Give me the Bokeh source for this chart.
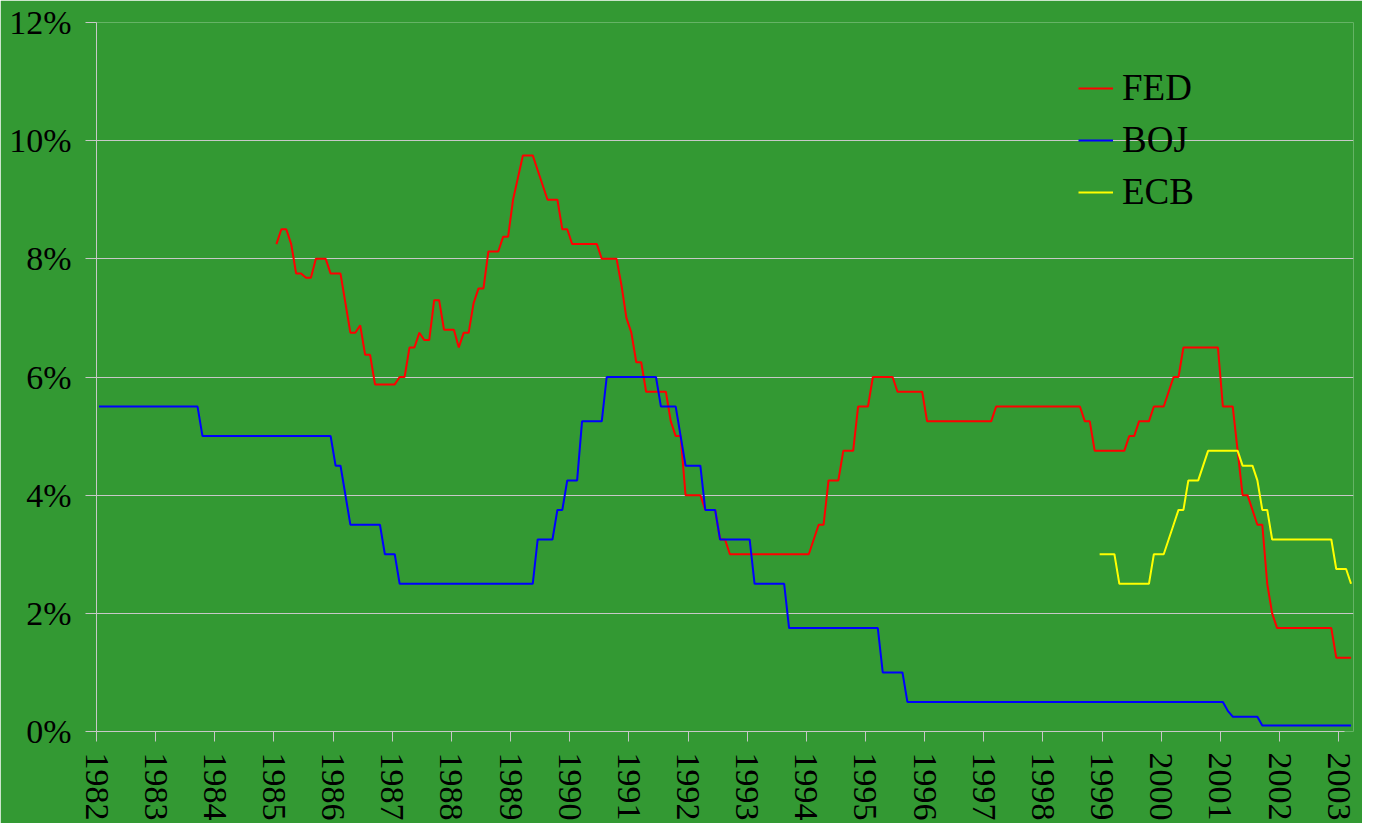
from bokeh.plotting import figure
from bokeh.models import FixedTicker, Legend, LegendItem, ColumnDataSource, Range1d
from bokeh.embed import file_html
from bokeh.resources import INLINE

# ---------------- data (monthly policy rates, %) ----------------
YEARS = list(range(1982, 2004))
YEAR_LABELS = [str(y) for y in YEARS]
Y_TICKS = [0, 2, 4, 6, 8, 10, 12]
Y_LABELS = ["0%", "2%", "4%", "6%", "8%", "10%", "12%"]

SERIES_NAMES = ["FED", "BOJ", "ECB"]
SERIES_COLORS = ["#FF0000", "#0000FF", "#FFFF00"]

FED_START = (1985, 1)
FED = [
    8.25, 8.5, 8.5, 8.25, 7.75, 7.75, 7.68, 7.68, 8.0, 8.0, 8.0, 7.75,          # 1985
    7.75, 7.75, 7.25, 6.75, 6.75, 6.875, 6.375, 6.375, 5.875, 5.875, 5.875, 5.875,  # 1986
    5.875, 6.0, 6.0, 6.5, 6.5, 6.75, 6.625, 6.625, 7.3, 7.3, 6.8, 6.8,          # 1987
    6.8, 6.5, 6.75, 6.75, 7.25, 7.5, 7.5, 8.125, 8.125, 8.125, 8.375, 8.375,    # 1988
    9.0, 9.375, 9.75, 9.75, 9.75, 9.5, 9.25, 9.0, 9.0, 9.0, 8.5, 8.5,           # 1989
    8.25, 8.25, 8.25, 8.25, 8.25, 8.25, 8.0, 8.0, 8.0, 8.0, 7.55, 7.0,          # 1990
    6.75, 6.25, 6.25, 5.75, 5.75, 5.75, 5.75, 5.75, 5.25, 5.0, 5.0, 4.0,        # 1991
    4.0, 4.0, 4.0, 3.75, 3.75, 3.75, 3.25, 3.25, 3.0, 3.0, 3.0, 3.0,            # 1992
    3.0, 3.0, 3.0, 3.0, 3.0, 3.0, 3.0, 3.0, 3.0, 3.0, 3.0, 3.0,                 # 1993
    3.0, 3.25, 3.5, 3.5, 4.25, 4.25, 4.25, 4.75, 4.75, 4.75, 5.5, 5.5,          # 1994
    5.5, 6.0, 6.0, 6.0, 6.0, 6.0, 5.75, 5.75, 5.75, 5.75, 5.75, 5.75,           # 1995
    5.25, 5.25, 5.25, 5.25, 5.25, 5.25, 5.25, 5.25, 5.25, 5.25, 5.25, 5.25,     # 1996
    5.25, 5.25, 5.5, 5.5, 5.5, 5.5, 5.5, 5.5, 5.5, 5.5, 5.5, 5.5,               # 1997
    5.5, 5.5, 5.5, 5.5, 5.5, 5.5, 5.5, 5.5, 5.25, 5.25, 4.75, 4.75,             # 1998
    4.75, 4.75, 4.75, 4.75, 4.75, 5.0, 5.0, 5.25, 5.25, 5.25, 5.5, 5.5,         # 1999
    5.5, 5.75, 6.0, 6.0, 6.5, 6.5, 6.5, 6.5, 6.5, 6.5, 6.5, 6.5,                # 2000
    5.5, 5.5, 5.5, 4.75, 4.0, 4.0, 3.75, 3.5, 3.5, 2.5, 2.0, 1.75,              # 2001
    1.75, 1.75, 1.75, 1.75, 1.75, 1.75, 1.75, 1.75, 1.75, 1.75, 1.75, 1.25,     # 2002
    1.25, 1.25, 1.25,                                                            # 2003
]

BOJ_START = (1982, 1)
BOJ = [
    5.5, 5.5, 5.5, 5.5, 5.5, 5.5, 5.5, 5.5, 5.5, 5.5, 5.5, 5.5,                 # 1982
    5.5, 5.5, 5.5, 5.5, 5.5, 5.5, 5.5, 5.5, 5.5, 5.0, 5.0, 5.0,                 # 1983
    5.0, 5.0, 5.0, 5.0, 5.0, 5.0, 5.0, 5.0, 5.0, 5.0, 5.0, 5.0,                 # 1984
    5.0, 5.0, 5.0, 5.0, 5.0, 5.0, 5.0, 5.0, 5.0, 5.0, 5.0, 5.0,                 # 1985
    4.5, 4.5, 4.0, 3.5, 3.5, 3.5, 3.5, 3.5, 3.5, 3.5, 3.0, 3.0,                 # 1986
    3.0, 2.5, 2.5, 2.5, 2.5, 2.5, 2.5, 2.5, 2.5, 2.5, 2.5, 2.5,                 # 1987
    2.5, 2.5, 2.5, 2.5, 2.5, 2.5, 2.5, 2.5, 2.5, 2.5, 2.5, 2.5,                 # 1988
    2.5, 2.5, 2.5, 2.5, 2.5, 3.25, 3.25, 3.25, 3.25, 3.75, 3.75, 4.25,          # 1989
    4.25, 4.25, 5.25, 5.25, 5.25, 5.25, 5.25, 6.0, 6.0, 6.0, 6.0, 6.0,          # 1990
    6.0, 6.0, 6.0, 6.0, 6.0, 6.0, 5.5, 5.5, 5.5, 5.5, 5.0, 4.5,                 # 1991
    4.5, 4.5, 4.5, 3.75, 3.75, 3.75, 3.25, 3.25, 3.25, 3.25, 3.25, 3.25,        # 1992
    3.25, 2.5, 2.5, 2.5, 2.5, 2.5, 2.5, 2.5, 1.75, 1.75, 1.75, 1.75,            # 1993
    1.75, 1.75, 1.75, 1.75, 1.75, 1.75, 1.75, 1.75, 1.75, 1.75, 1.75, 1.75,     # 1994
    1.75, 1.75, 1.75, 1.0, 1.0, 1.0, 1.0, 1.0, 0.5, 0.5, 0.5, 0.5,              # 1995
    0.5, 0.5, 0.5, 0.5, 0.5, 0.5, 0.5, 0.5, 0.5, 0.5, 0.5, 0.5,                 # 1996
    0.5, 0.5, 0.5, 0.5, 0.5, 0.5, 0.5, 0.5, 0.5, 0.5, 0.5, 0.5,                 # 1997
    0.5, 0.5, 0.5, 0.5, 0.5, 0.5, 0.5, 0.5, 0.5, 0.5, 0.5, 0.5,                 # 1998
    0.5, 0.5, 0.5, 0.5, 0.5, 0.5, 0.5, 0.5, 0.5, 0.5, 0.5, 0.5,                 # 1999
    0.5, 0.5, 0.5, 0.5, 0.5, 0.5, 0.5, 0.5, 0.5, 0.5, 0.5, 0.5,                 # 2000
    0.5, 0.35, 0.25, 0.25, 0.25, 0.25, 0.25, 0.25, 0.1, 0.1, 0.1, 0.1,          # 2001
    0.1, 0.1, 0.1, 0.1, 0.1, 0.1, 0.1, 0.1, 0.1, 0.1, 0.1, 0.1,                 # 2002
    0.1, 0.1, 0.1,                                                               # 2003
]

ECB_START = (1998, 12)
ECB = [
    3.0,                                                                         # 1998-12
    3.0, 3.0, 3.0, 2.5, 2.5, 2.5, 2.5, 2.5, 2.5, 2.5, 3.0, 3.0,                 # 1999
    3.0, 3.25, 3.5, 3.75, 3.75, 4.25, 4.25, 4.25, 4.5, 4.75, 4.75, 4.75,        # 2000
    4.75, 4.75, 4.75, 4.75, 4.5, 4.5, 4.5, 4.25, 3.75, 3.75, 3.25, 3.25,        # 2001
    3.25, 3.25, 3.25, 3.25, 3.25, 3.25, 3.25, 3.25, 3.25, 3.25, 3.25, 2.75,     # 2002
    2.75, 2.75, 2.5,                                                             # 2003
]


def month_positions(start, n):
    """Mid-month positions (in decimal years) of n consecutive monthly observations."""
    year, month = start
    return [year + (month - 1 + i + 0.5) / 12.0 for i in range(n)]


BG = "#339933"
GRID = "#c8c8c8"
FONT = "Liberation Serif"

p = figure(
    width=1362, height=823,
    x_range=Range1d(1982, 2003.25), y_range=Range1d(0, 12),
    output_backend="svg", toolbar_location=None,
    background_fill_color=BG, border_fill_color=BG,
    min_border_left=96, min_border_right=9, min_border_top=22, min_border_bottom=89,
)
p.outline_line_color = None

# axes
p.xaxis.ticker = FixedTicker(ticks=YEARS)
p.xaxis.major_label_overrides = {y: lab for y, lab in zip(YEARS, YEAR_LABELS)}
p.xaxis.major_label_orientation = "vertical"
p.xaxis.bounds = (1982, 2003.1)
p.yaxis.ticker = FixedTicker(ticks=Y_TICKS)
p.yaxis.major_label_overrides = {t: lab for t, lab in zip(Y_TICKS, Y_LABELS)}

for ax in (p.xaxis, p.yaxis):
    ax.axis_line_color = GRID
    ax.axis_line_width = 1
    ax.major_tick_line_color = GRID
    ax.major_tick_in = 0
    ax.minor_tick_line_color = None
    ax.major_label_text_font = FONT
    ax.major_label_text_font_size = "34px"
    ax.major_label_text_color = "black"
p.xaxis.major_tick_out = 10
p.xaxis.major_label_standoff = 11
p.yaxis.major_tick_out = 11
p.yaxis.major_label_standoff = 14

p.xgrid.grid_line_color = None
p.ygrid.grid_line_color = GRID
p.ygrid.grid_line_width = 1

# lines
items = []
for name, color, start, vals in zip(SERIES_NAMES, SERIES_COLORS,
                                    [FED_START, BOJ_START, ECB_START], [FED, BOJ, ECB]):
    src = ColumnDataSource(dict(x=month_positions(start, len(vals)), y=vals))
    r = p.line("x", "y", source=src, line_color=color, line_width=2)
    items.append(LegendItem(label=name, renderers=[r]))

legend = Legend(
    items=items, location=(982, 518),
    background_fill_alpha=0, border_line_alpha=0,
    padding=0, margin=0, spacing=9,
    glyph_width=35, glyph_height=20, label_standoff=9,
    label_text_font=FONT, label_text_font_size="37px", label_text_color="black",
)
p.add_layout(legend)

open("out.html", "w").write(file_html(p, INLINE))
